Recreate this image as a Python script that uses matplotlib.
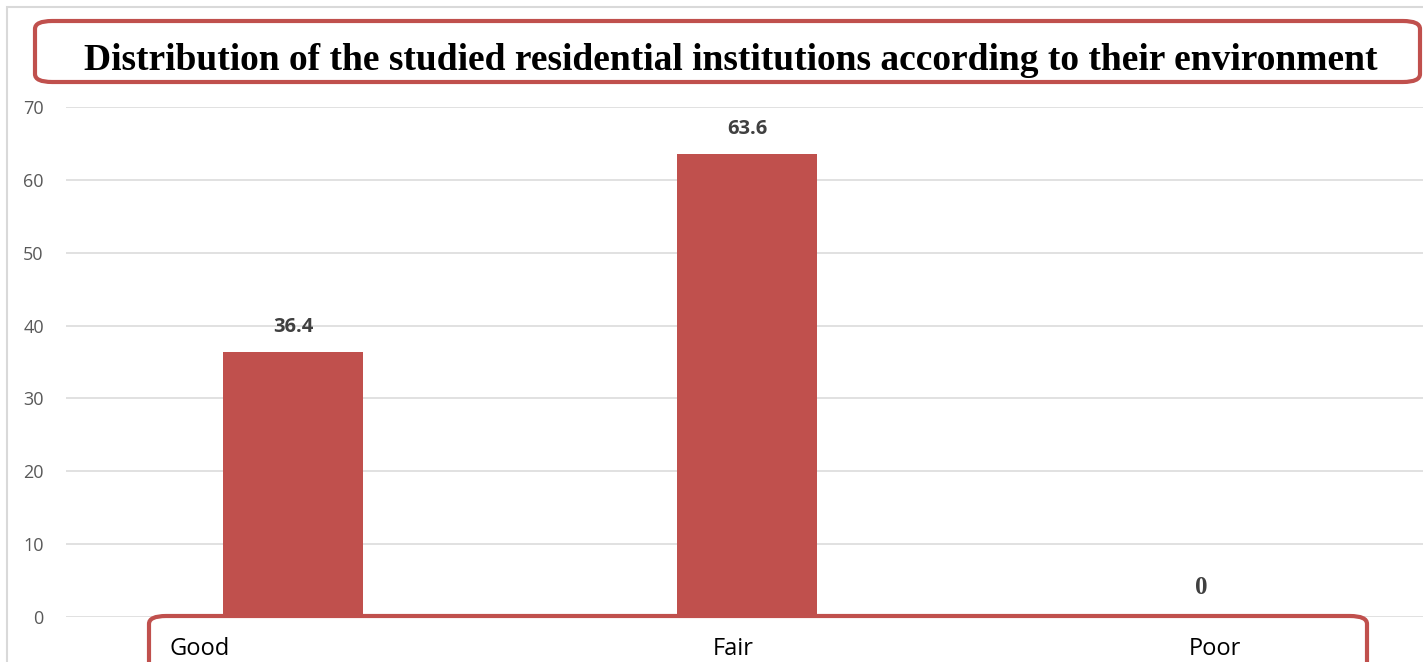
import matplotlib.pyplot as plt
from matplotlib.patches import FancyBboxPatch, Rectangle

categories = ['Good', 'Fair', 'Poor']
values = [36.4, 63.6, 0]
value_labels = ['36.4', '63.6', '0']

W, H = 1423, 662
fig = plt.figure(figsize=(W / 100, H / 100), dpi=100)

def px(x, y):
    # pixel (from top-left) -> figure fraction
    return x / W, 1 - y / H

# axes: left at x=66, y=0 at 617, y=70 at 107, right edge past the image
x0, y0 = px(66, 617)
x1, y1 = px(66 + 3 * 454, 107)
ax = fig.add_axes([x0, y0, x1 - x0, y1 - y0])

ax.bar(range(len(categories)), values, width=0.31, color='#c0504d', zorder=3)
ax.set_xlim(-0.5, 2.5)
ax.set_ylim(0, 70)
ax.set_yticks(range(0, 71, 10))
ax.yaxis.grid(True, color='#d9d9d9', linewidth=1.1)
ax.set_axisbelow(True)
for s in ax.spines.values():
    s.set_visible(False)
ax.tick_params(axis='y', length=0, pad=16, labelsize=13, labelcolor='#595959')
ax.set_xticks([])
for lab in ax.get_yticklabels():
    lab.set_fontfamily('Open Sans')

# value labels
for i, (v, t) in enumerate(zip(values, value_labels)):
    if v == 0:
        ax.annotate(t, (i, v), xytext=(0, 21), textcoords='offset points',
                    ha='center', va='center', fontsize=18, fontweight='bold',
                    family='Liberation Serif', color='#404040')
    else:
        ax.annotate(t, (i, v), xytext=(0, 18), textcoords='offset points',
                    ha='center', va='center', fontsize=14.5, fontweight='bold',
                    family='Open Sans', color='#404040')

# outer light-gray frame
fx, fy = px(7, 700)
fig.patches.append(Rectangle((fx, fy), 1.2, (1 - 7 / H) - fy, transform=fig.transFigure,
                             fill=False, edgecolor='#d9d9d9', linewidth=1.5, zorder=0))

# title box
bx0, by0 = px(35, 82)
bx1, by1 = px(1420, 21)
fig.patches.append(FancyBboxPatch((bx0, by0), bx1 - bx0, by1 - by0,
                                  boxstyle='round,pad=0,rounding_size=0.012',
                                  transform=fig.transFigure, fill=False,
                                  edgecolor='#c0504d', linewidth=3, zorder=5))
tx, ty = px(731, 60)
fig.text(tx, ty, 'Distribution of the studied residential institutions according to their environment',
         ha='center', va='center', fontsize=27, fontweight='bold',
         family='Liberation Serif', color='black')

# category label box
lx0, ly0 = px(149, 680)
lx1, ly1 = px(1367, 616)
fig.patches.append(FancyBboxPatch((lx0, ly0), lx1 - lx0, ly1 - ly0,
                                  boxstyle='round,pad=0,rounding_size=0.012',
                                  transform=fig.transFigure, fill=False,
                                  edgecolor='#c0504d', linewidth=3, zorder=5))
for cx, name in zip([200, 733, 1215], categories):
    fx, fy = px(cx, 649)
    fig.text(fx, fy, name, ha='center', va='center', fontsize=17,
             family='Open Sans', color='black')

fig.savefig('out.png', dpi=100)
